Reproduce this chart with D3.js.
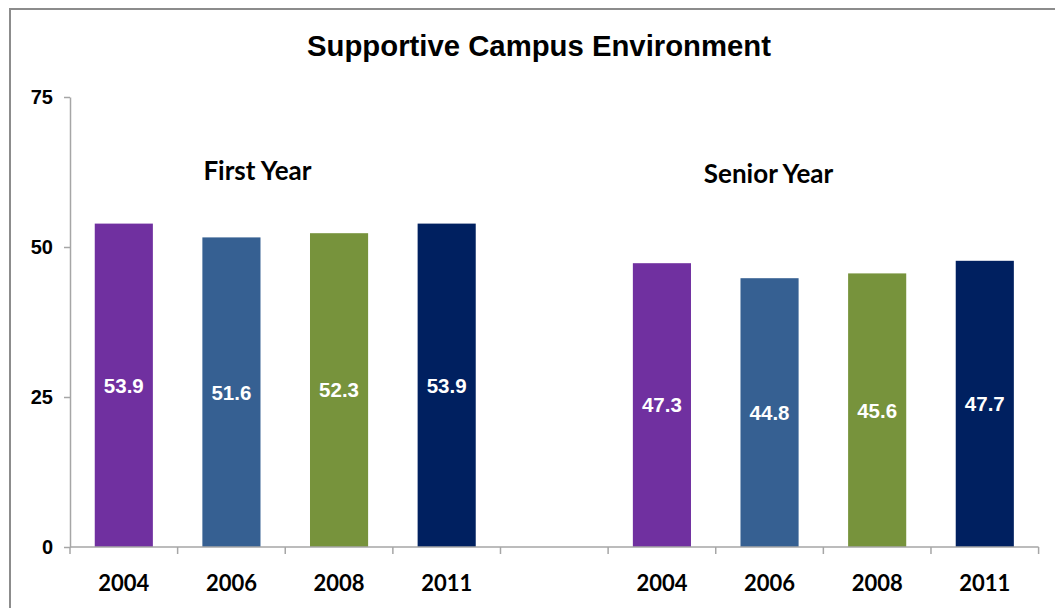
<!DOCTYPE html>
<html>
<head>
<meta charset="utf-8">
<script src="https://cdn.jsdelivr.net/npm/d3@7"></script>
<style>
  html, body { margin: 0; padding: 0; background: #fff; overflow: hidden; }
  svg { display: block; }
</style>
</head>
<body>
<svg id="chart" width="1055" height="608"></svg>
<script>
// Survey benchmark scores by cohort and survey year
const years = ["2004", "2006", "2008", "2011"];
const cohorts = ["First Year", "Senior Year"];
const firstYearScores = [53.9, 51.6, 52.3, 53.9];
const seniorYearScores = [47.3, 44.8, 45.6, 47.7];
const yTicks = [0, 25, 50, 75];
const title = "Supportive Campus Environment";

const yearColors = ["#7030A0", "#366092", "#77933C", "#002060"];

// Category slots: four years per cohort with one empty slot between cohorts
const slots = [];
firstYearScores.forEach((v, i) => slots.push({ id: "fy" + i, year: years[i], value: v, color: yearColors[i] }));
slots.push({ id: "gap", year: "", value: null });
seniorYearScores.forEach((v, i) => slots.push({ id: "sy" + i, year: years[i], value: v, color: yearColors[i] }));

const svg = d3.select("#chart");

// Outer frame of the chart area
svg.append("rect")
  .attr("x", 10).attr("y", 9)
  .attr("width", 1100).attr("height", 700)
  .attr("fill", "none")
  .attr("stroke", "#8c8c8c")
  .attr("stroke-width", 2);

const x = d3.scaleBand()
  .domain(slots.map(d => d.id))
  .range([70, 1038.6])
  .paddingInner(0.46)
  .paddingOuter(0.23);

const y = d3.scaleLinear().domain([0, 75]).range([547, 97]);

const axisColor = "#a6a6a6";

// Bars
svg.append("g").selectAll("rect")
  .data(slots.filter(d => d.value !== null))
  .join("rect")
  .attr("x", d => x(d.id))
  .attr("y", d => y(d.value))
  .attr("width", x.bandwidth())
  .attr("height", d => y(0) - y(d.value))
  .attr("fill", d => d.color);

// Value labels centred in each bar
svg.append("g").selectAll("text")
  .data(slots.filter(d => d.value !== null))
  .join("text")
  .attr("x", d => x(d.id) + x.bandwidth() / 2)
  .attr("y", d => (y(d.value) + y(0)) / 2)
  .attr("dy", "0.36em")
  .attr("text-anchor", "middle")
  .attr("fill", "#fff")
  .style("font-family", "'Liberation Sans', Arial, sans-serif")
  .style("font-weight", "bold")
  .style("font-size", "20.5px")
  .text(d => d.value.toFixed(1));

// Y axis
const yAxis = svg.append("g")
  .attr("transform", `translate(${x.range()[0]},0)`)
  .call(d3.axisLeft(y).tickValues(yTicks).tickSize(6).tickPadding(11).tickSizeOuter(0));
yAxis.select(".domain").attr("stroke", axisColor).attr("stroke-width", 1.5);
yAxis.selectAll(".tick line").attr("stroke", axisColor).attr("stroke-width", 1.5);
yAxis.selectAll(".tick text")
  .attr("fill", "#000")
  .style("font-family", "'Liberation Sans', Arial, sans-serif")
  .style("font-weight", "bold")
  .style("font-size", "20px");

// X axis: baseline with ticks at category boundaries
const xg = svg.append("g");
const [x0, x1] = x.range();
xg.append("line")
  .attr("x1", x0).attr("x2", x1)
  .attr("y1", y(0)).attr("y2", y(0))
  .attr("stroke", axisColor).attr("stroke-width", 1.5);
const step = x.step();
const boundaries = d3.range(slots.length + 1).map(i => x0 + i * step);
xg.selectAll("line.tick")
  .data(boundaries)
  .join("line")
  .attr("class", "tick")
  .attr("x1", d => d).attr("x2", d => d)
  .attr("y1", y(0)).attr("y2", y(0) + 7)
  .attr("stroke", axisColor).attr("stroke-width", 1.5);
xg.selectAll("text")
  .data(slots.filter(d => d.year))
  .join("text")
  .attr("x", d => x(d.id) + x.bandwidth() / 2)
  .attr("y", 591)
  .attr("text-anchor", "middle")
  .attr("fill", "#000")
  .style("font-family", "Lato, 'Open Sans', sans-serif")
  .style("font-weight", "bold")
  .style("font-size", "22px")
  .text(d => d.year);

// Cohort labels
const cohortPos = [
  { x: x("fy1") + x.bandwidth() / 2 + 26, y: 180 },
  { x: x("sy1") + x.bandwidth() / 2 - 1, y: 183 }
];
svg.append("g").selectAll("text")
  .data(cohorts)
  .join("text")
  .attr("x", (d, i) => cohortPos[i].x)
  .attr("y", (d, i) => cohortPos[i].y)
  .attr("text-anchor", "middle")
  .attr("fill", "#000")
  .style("font-family", "Lato, 'Open Sans', sans-serif")
  .style("font-weight", "bold")
  .style("font-size", "26px")
  .text(d => d);

// Title
svg.append("text")
  .attr("x", 539)
  .attr("y", 56)
  .attr("text-anchor", "middle")
  .attr("fill", "#000")
  .style("font-family", "'Liberation Sans', Arial, sans-serif")
  .style("font-weight", "bold")
  .style("font-size", "29.3px")
  .text(title);
</script>
</body>
</html>
